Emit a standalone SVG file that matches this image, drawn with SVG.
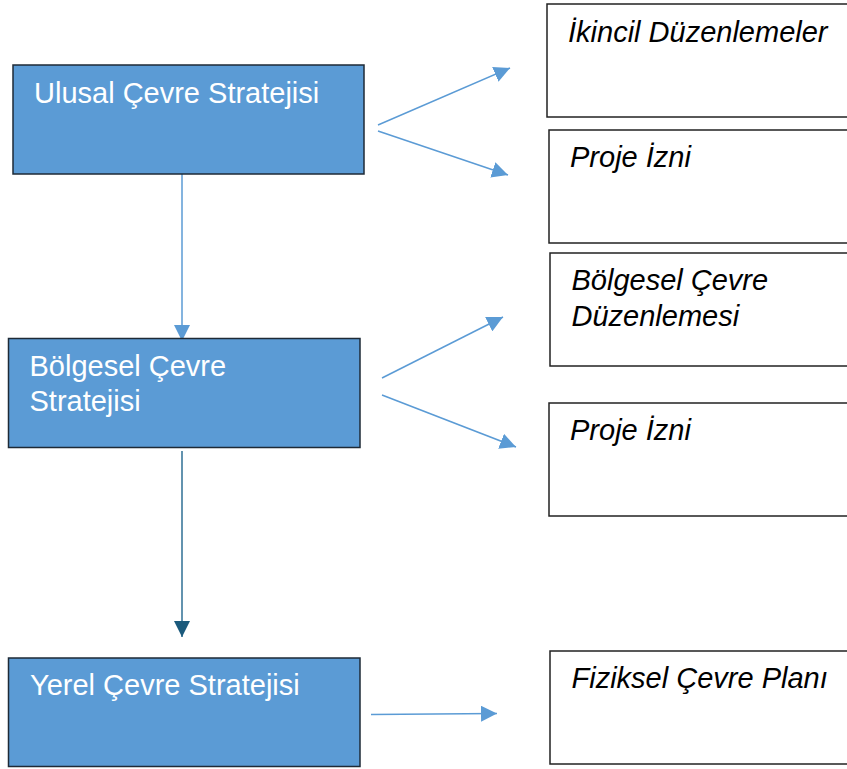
<svg xmlns="http://www.w3.org/2000/svg" width="847" height="769" viewBox="0 0 847 769">
<style>
.blue{fill:#5b9bd5;stroke:#1e2a36;stroke-width:1.5}
.white{fill:#ffffff;stroke:#222222;stroke-width:1.5}
.bt{font-family:"Liberation Sans",Arial,sans-serif;font-size:29px;fill:#ffffff}
.it{font-family:"Liberation Sans",Arial,sans-serif;font-size:29px;font-style:italic;fill:#000000}
.c{fill:none;stroke:#5b9bd5;stroke-width:1.5}
.cd{fill:none;stroke:#2f6f94;stroke-width:1.5}
</style>
<defs>
<marker id="ah" markerUnits="userSpaceOnUse" markerWidth="17" markerHeight="16" refX="16" refY="8" orient="auto">
<path d="M0,0 L16,8 L0,16 z" fill="#5b9bd5"/>
</marker>
<marker id="ahd" markerUnits="userSpaceOnUse" markerWidth="17" markerHeight="16" refX="16" refY="8" orient="auto">
<path d="M0,0 L16,8 L0,16 z" fill="#1b5a7c"/>
</marker>
</defs>
<g id="connectors">
<line class="c" x1="182" y1="174" x2="182" y2="341" marker-end="url(#ah)"/>
<line class="cd" x1="182" y1="451" x2="182" y2="637" marker-end="url(#ahd)"/>
<line class="c" x1="378" y1="125" x2="510" y2="68" marker-end="url(#ah)"/>
<line class="c" x1="378" y1="131" x2="508" y2="175" marker-end="url(#ah)"/>
<line class="c" x1="382" y1="378" x2="503" y2="317" marker-end="url(#ah)"/>
<line class="c" x1="382" y1="395" x2="516" y2="447" marker-end="url(#ah)"/>
<line class="c" x1="371" y1="714.5" x2="497" y2="713.5" marker-end="url(#ah)"/>
</g>
<g id="ulusal">
<rect class="blue" x="13" y="65" width="351" height="109"/>
<text class="bt" x="34" y="103">Ulusal Çevre Stratejisi</text>
</g>
<g id="bolgesel">
<rect class="blue" x="8.5" y="338.5" width="351.5" height="109"/>
<text class="bt" x="29.5" y="376">Bölgesel Çevre</text>
<text class="bt" x="29.5" y="411">Stratejisi</text>
</g>
<g id="yerel">
<rect class="blue" x="8.5" y="658" width="351.5" height="108.5"/>
<text class="bt" x="30" y="695">Yerel Çevre Stratejisi</text>
</g>
<g id="ikincil">
<rect class="white" x="547" y="4" width="320" height="113"/>
<text class="it" x="568" y="42">İkincil Düzenlemeler</text>
</g>
<g id="proje1">
<rect class="white" x="549" y="130" width="320" height="113"/>
<text class="it" x="570" y="167">Proje İzni</text>
</g>
<g id="bolgeselduz">
<rect class="white" x="550" y="253" width="320" height="113"/>
<text class="it" x="571.5" y="290">Bölgesel Çevre</text>
<text class="it" x="571.5" y="326">Düzenlemesi</text>
</g>
<g id="proje2">
<rect class="white" x="549" y="403" width="320" height="113"/>
<text class="it" x="570" y="440">Proje İzni</text>
</g>
<g id="fiziksel">
<rect class="white" x="550" y="651" width="320" height="113"/>
<text class="it" x="571.5" y="688">Fiziksel Çevre Planı</text>
</g>
</svg>
